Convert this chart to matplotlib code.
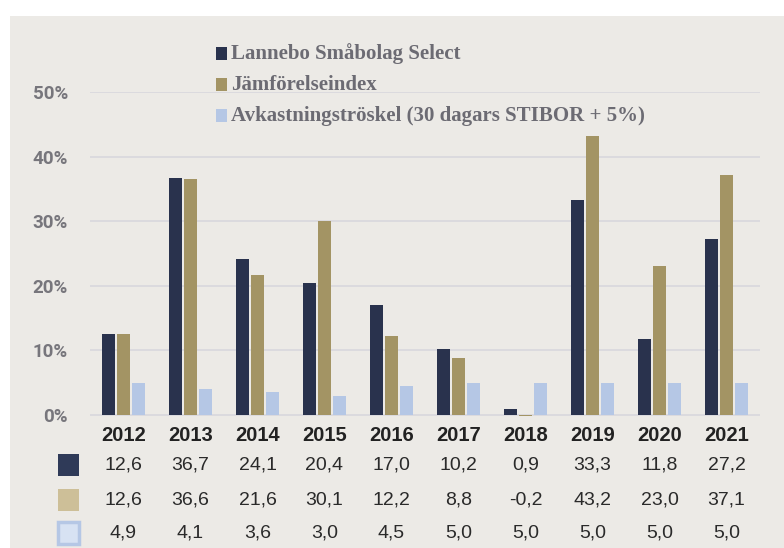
import numpy as np
import matplotlib.pyplot as plt
from matplotlib.patches import Rectangle
from matplotlib import transforms

years = ['2012', '2013', '2014', '2015', '2016', '2017', '2018', '2019', '2020', '2021']
fond = [12.6, 36.7, 24.1, 20.4, 17.0, 10.2, 0.9, 33.3, 11.8, 27.2]
index = [12.6, 36.6, 21.6, 30.1, 12.2, 8.8, -0.2, 43.2, 23.0, 37.1]
troskel = [4.9, 4.1, 3.6, 3.0, 4.5, 5.0, 5.0, 5.0, 5.0, 5.0]
names = ['Lannebo Småbolag Select', 'Jämförelseindex', 'Avkastningströskel (30 dagars STIBOR + 5%)']

c_fond = '#29324D'
c_index = '#A39464'
c_tros = '#B5C7E5'

W, H = 784, 548
fig = plt.figure(figsize=(W / 100, H / 100), dpi=100)
fig.patch.set_facecolor('white')
fig.patches.append(Rectangle((10 / W, 0), 1, 1 - 16 / H, transform=fig.transFigure,
                             facecolor='#ECEAE6', edgecolor='none', zorder=-10))

# 0% at y=415, 50% at y=92 -> 6.46 px per %
ppp = (415 - 92) / 50
ymin = -1.0
bottom = 415 + (-ymin) * ppp
ax = fig.add_axes([90 / W, (H - bottom) / H, 670 / W, (bottom - 92) / H])
ax.set_facecolor('none')
ax.set_xlim(-0.5, 9.5)
ax.set_ylim(ymin, 50)

x = np.arange(len(years))
bw = 0.18
off = 0.224
ax.bar(x - off, fond, bw, color=c_fond, zorder=3)
ax.bar(x, index, bw, color=c_index, zorder=3)
ax.bar(x + off, troskel, bw, color=c_tros, zorder=3)

for v in range(0, 51, 10):
    ax.axhline(v, color='#D8D7DD', lw=1.2, zorder=1)

for s in ax.spines.values():
    s.set_visible(False)
ax.set_yticks(range(0, 51, 10))
ax.set_yticklabels([f'{v}%' for v in range(0, 51, 10)], fontsize=13.5, fontweight='bold',
                   color='#77767C', family=['Roboto', 'DejaVu Sans'])
ax.tick_params(axis='y', length=0, pad=16)
ax.set_xticks(x)
ax.set_xticklabels(years, fontsize=14.5, fontweight='bold', color='#222222',
                   family=['Liberation Sans', 'DejaVu Sans'])
ax.tick_params(axis='x', length=0, pad=3)

# legend
for i, (n, c) in enumerate(zip(names, [c_fond, c_index, c_tros])):
    yy = 54 + i * 31
    fig.patches.append(Rectangle((216 / W, 1 - (yy + 6) / H), 11 / W, 13 / H,
                                 transform=fig.transFigure, facecolor=c, edgecolor='none'))
    fig.text(231 / W, 1 - yy / H, n, fontsize=15, fontweight='bold', color='#6C6B73',
             va='center', ha='left', family=['Liberation Serif', 'DejaVu Serif'])

# table below
tr = transforms.blended_transform_factory(ax.transData, fig.transFigure)
rows = [fond, index, troskel]
row_y = [465, 500, 533]
sq = [('#2F3A58', '#2F3A58', 0), ('#CDBF98', '#CDBF98', 0), ('#D7E2F3', '#B5C7E5', 2.5)]
for vals, yy, (fc, ec, lw) in zip(rows, row_y, sq):
    fig.patches.append(Rectangle((58 / W, 1 - (yy + 11) / H), 21 / W, 22 / H,
                                 transform=fig.transFigure, facecolor=fc, edgecolor=ec, lw=lw))
    for xi, v in zip(x, vals):
        ax.text(xi, 1 - yy / H, f'{v:.1f}'.replace('.', ','), transform=tr, ha='center',
                va='center', fontsize=14, color='#2A2A2A',
                family=['Liberation Sans', 'DejaVu Sans'])

fig.savefig('out.png', dpi=100)
